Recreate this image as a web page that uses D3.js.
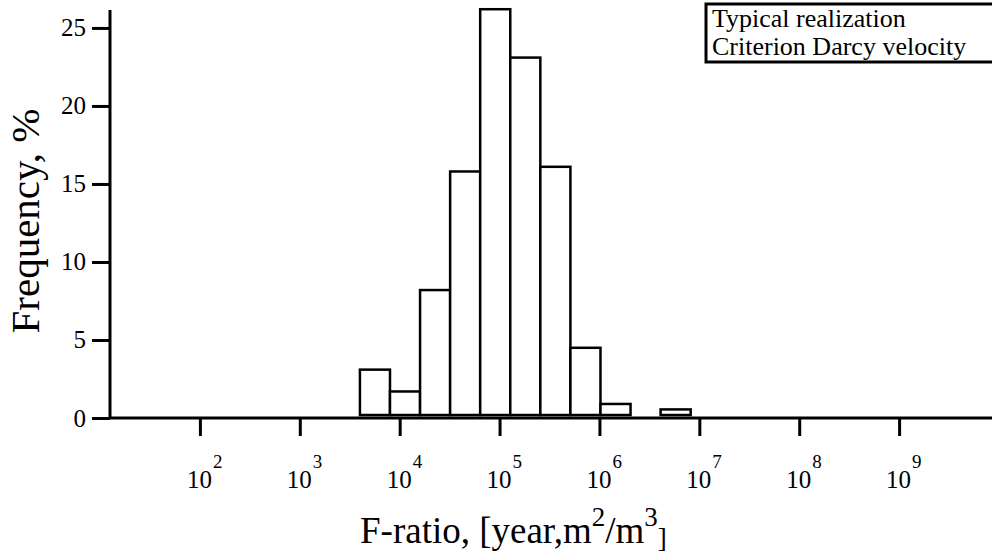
<!DOCTYPE html>
<html>
<head>
<meta charset="utf-8">
<script src="https://cdn.jsdelivr.net/npm/d3@7"></script>
<style>
  html, body { margin: 0; padding: 0; background: #fff; }
  svg { display: block; font-family: "Liberation Serif", "DejaVu Serif", serif; }
</style>
</head>
<body>
<svg id="chart" width="992" height="553"></svg>
<script>
// histogram of F-ratio, bins double in width
const binEdges = [4e3, 8e3, 1.6e4, 3.2e4, 6.4e4, 1.28e5, 2.56e5, 5.12e5, 1.024e6, 2.048e6, 4.096e6, 8.192e6];
const frequencies = [3.1, 1.7, 8.2, 15.8, 26.2, 23.1, 16.1, 4.5, 0.9, 0, 0.55];
const xTickExponents = [2, 3, 4, 5, 6, 7, 8, 9];
const yTicks = [0, 5, 10, 15, 20, 25];
const legendLines = ["Typical realization", "Criterion Darcy velocity"];

const bins = frequencies.map((f, i) => ({ x0: binEdges[i], x1: binEdges[i + 1], value: f }));

const svg = d3.select("#chart");

const xScale = d3.scaleLog()
    .domain([Math.pow(10, 1.1), Math.pow(10, 9.93)])
    .range([110, 992]);
const yScale = d3.scaleLinear()
    .domain([0, 26.15])
    .range([418, 10]);

// bars
svg.selectAll(".bar")
    .data(bins.filter(d => d.value > 0))
    .join("rect")
    .attr("class", "bar")
    .attr("x", d => xScale(d.x0))
    .attr("y", d => yScale(d.value))
    .attr("width", d => xScale(d.x1) - xScale(d.x0))
    .attr("height", d => yScale(0) - yScale(d.value) - 3)
    .attr("fill", "white")
    .attr("stroke", "black")
    .attr("stroke-width", 2.5);

// y axis
const yAxis = svg.append("g")
    .attr("transform", `translate(${xScale.range()[0]},0)`)
    .call(d3.axisLeft(yScale).tickValues(yTicks).tickSize(18).tickPadding(6).tickFormat(d3.format("d")));
yAxis.select(".domain").attr("stroke-width", 3).attr("d", `M0,${yScale(0)}V${yScale.range()[1]}`);
yAxis.selectAll(".tick line").attr("stroke-width", 3);
yAxis.selectAll(".tick text")
    .attr("font-family", "Liberation Serif")
    .attr("font-size", 25)
    .attr("fill", "black");

// x axis
const xAxis = svg.append("g")
    .attr("transform", `translate(0,${yScale(0)})`)
    .call(d3.axisBottom(xScale).tickValues(xTickExponents.map(e => Math.pow(10, e))).tickSize(18).tickFormat(""));
xAxis.select(".domain").attr("stroke-width", 3).attr("d", `M${xScale.range()[0]},0H${xScale.range()[1]}`);
xAxis.selectAll(".tick line").attr("stroke-width", 3);

const xLabels = svg.append("g")
    .selectAll("text")
    .data(xTickExponents)
    .join("text")
    .attr("x", d => xScale(Math.pow(10, d)) - 13)
    .attr("y", 488)
    .attr("font-size", 25)
    .attr("fill", "black");
xLabels.append("tspan").text("10");
xLabels.append("tspan")
    .attr("dy", -20)
    .attr("dx", 1)
    .attr("font-size", 19)
    .text(d => d);

// axis titles
svg.append("text")
    .attr("transform", `translate(39,${(yScale(0) + yScale.range()[1]) / 2 + 7}) rotate(-90)`)
    .attr("text-anchor", "middle")
    .attr("font-size", 41)
    .text("Frequency, %");

const xTitle = svg.append("text")
    .attr("x", 360)
    .attr("y", 543)
    .attr("font-size", 37);
xTitle.append("tspan").text("F-ratio, [year,m");
xTitle.append("tspan").attr("dy", -17).attr("font-size", 27).text("2");
xTitle.append("tspan").attr("dy", 17).text("/m");
xTitle.append("tspan").attr("dy", -17).attr("font-size", 27).text("3");
xTitle.append("tspan").attr("dy", 21).attr("font-size", 27).text("]");

// legend box
const legend = svg.append("g");
legend.append("rect")
    .attr("x", 706)
    .attr("y", 4)
    .attr("width", 300)
    .attr("height", 58)
    .attr("fill", "white")
    .attr("stroke", "black")
    .attr("stroke-width", 3);
legend.selectAll("text")
    .data(legendLines)
    .join("text")
    .attr("x", 712)
    .attr("y", (d, i) => 27 + i * 28)
    .attr("font-size", 26)
    .text(d => d);
</script>
</body>
</html>
